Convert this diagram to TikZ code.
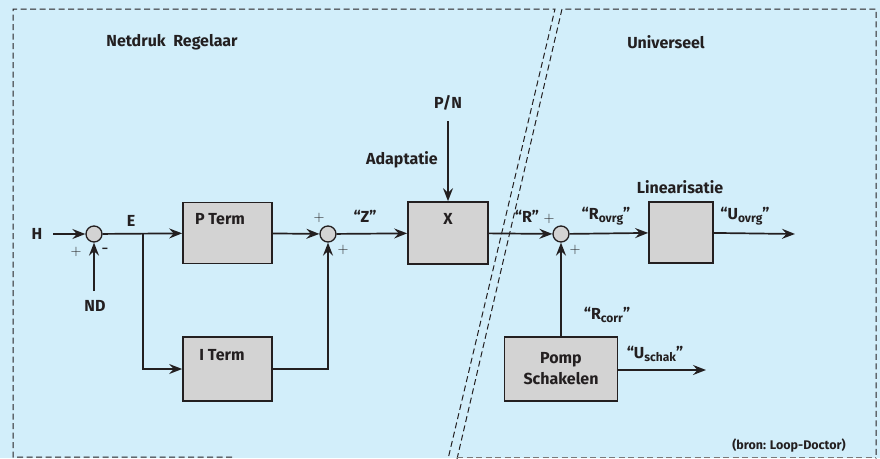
\documentclass[tikz,border=0pt]{standalone}
\usepackage{fontspec}
\setmainfont{Fira Sans}
\usetikzlibrary{arrows.meta}
\definecolor{bgblue}{HTML}{D2EEFA}
\definecolor{ink}{HTML}{231F20}
\definecolor{boxgray}{HTML}{D3D3D3}
\tikzset{
  wire/.style={draw=ink,line width=1.7pt},
  blk/.style={draw=ink,fill=boxgray,line width=1.7pt,inner sep=0pt},
  sumc/.style={circle,draw=ink,fill=boxgray,line width=1.3pt,minimum size=16pt,inner sep=0pt},
  lbl/.style={text=ink,font=\fontsize{16}{21}\selectfont\bfseries,inner sep=0pt},
  sgn/.style={text=ink,font=\fontsize{15}{17}\selectfont,inner sep=0pt},
  sml/.style={text=ink,font=\fontsize{12.5}{14}\selectfont\bfseries,inner sep=0pt},
  region/.style={draw=ink,line width=1pt,dash pattern=on 6pt off 3.5pt},
}
\newcommand{\sbs}[1]{\raisebox{-3pt}{\fontsize{12}{13}\selectfont #1}}
\begin{document}
\begin{tikzpicture}[x=1pt,y=-1pt,>={Stealth[length=13pt,width=10pt,inset=4.5pt]}]
\fill[bgblue] (0,0) rectangle (880,458);
\useasboundingbox (0,0) rectangle (880,458);
% regions
\draw[region] (232,457) -- (13,457) -- (13,9) -- (555,9) -- (448,459);
\draw[region] (457,459) -- (562,9) -- (876,9) -- (876,459);
\draw[region,draw=ink!60] (457,457) -- (876,457);
% titles
\node[lbl] (t1) at (172,42) {Netdruk\ \ Regelaar};
\node[lbl] (t2) at (666,42) {Universeel};
% sum 1
\node[sumc] (s1) at (94,234) {};
\coordinate (hin) at (53,234);
\coordinate (ndin) at (94,291);
\node[lbl] (lh) at (37,234) {H};
\node[lbl] (lnd) at (95,306) {ND};
\node[sgn] (p1) at (76,252) {$+$};
\node[sgn,font=\fontsize{18}{20}\selectfont] (m1) at (105,251) {-};
\draw[wire,->] (hin) -- (s1);
\draw[wire,->] (ndin) -- (s1);
% P and I terms
\node[blk,minimum width=89pt,minimum height=61pt] (pt) at (227.5,233) {};
\node[lbl] (ptl) at (220,219) {P Term};
\node[blk,minimum width=89pt,minimum height=64pt] (it) at (227.5,369) {};
\node[lbl] (itl) at (222,355) {I Term};
\coordinate (j) at (143,234);
\node[lbl] (le) at (131,221) {E};
\draw[wire,->] (s1) -- (pt);
\draw[wire,->] (j) |- (it.west);
% sum 2
\node[sumc] (s2) at (328,234) {};
\node[sgn] (p2a) at (319,218) {$+$};
\node[sgn] (p2b) at (343,250) {$+$};
\draw[wire,->] (pt) -- (s2);
\draw[wire,->] (it.east) -| (s2);
% X
\node[blk,minimum width=80pt,minimum height=62pt] (x) at (448,233) {};
\node[lbl] (xl) at (448,219) {X};
\node[lbl] (lz) at (365,216) {“Z”};
\draw[wire,->] (s2) -- (x);
\coordinate (pn) at (448,121);
\node[lbl] (lpn) at (448,103) {P/N};
\node[lbl,anchor=east] (lad) at (438,160) {Adaptatie};
\draw[wire,->] (pn) -- (x);
% sum 3
\node[sumc] (s3) at (561,234) {};
\node[lbl] (lr) at (527,216) {“R”};
\node[sgn] (p3a) at (549,219) {$+$};
\node[sgn] (p3b) at (575,250) {$+$};
\draw[wire,->] (x) -- (s3);
% linearisatie
\node[blk,minimum width=64pt,minimum height=61pt] (lin) at (681,232.5) {};
\node[lbl] (llin) at (680,187) {Linearisatie};
\node[lbl] (lro) at (606,216) {“R\sbs{ovrg}”};
\draw[wire,->] (s3) -- (lin);
\coordinate (uo) at (795,234);
\node[lbl] (luo) at (745,216) {“U\sbs{ovrg}”};
\draw[wire,->] (lin) -- (uo);
% pomp
\node[blk,minimum width=113pt,minimum height=64pt,align=center,lbl] (pomp) at (561,369) {Pomp\\Schakelen};
\node[lbl] (lrc) at (607,315) {“R\sbs{corr}”};
\draw[wire,->] (pomp) -- (s3);
\coordinate (us) at (706,370);
\node[lbl] (lus) at (655,354) {“U\sbs{schak}”};
\draw[wire,->] (pomp.east |- us) -- (us);
% source
\node[sml] (src) at (789,446) {(bron: Loop-Doctor)};
\end{tikzpicture}
\end{document}
